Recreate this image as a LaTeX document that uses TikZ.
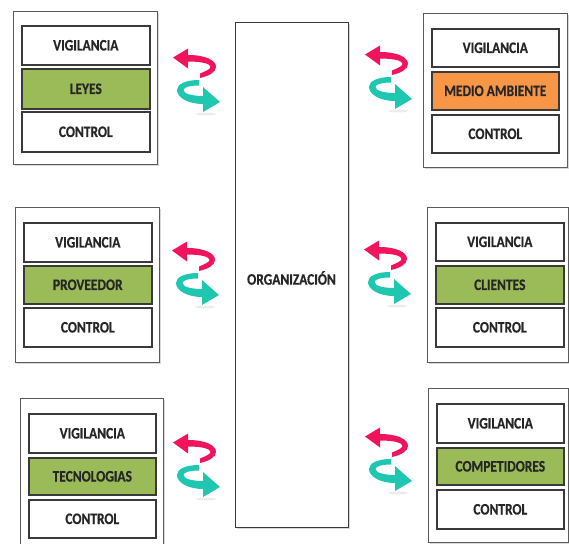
\documentclass[tikz,border=0pt]{standalone}
\usepackage{fontspec}
\setmainfont{Carlito}[BoldFeatures={FakeStretch=0.84,FakeBold=0.5}]
\usetikzlibrary{shadows}
\definecolor{boxgreen}{HTML}{9BBB59}
\definecolor{boxorange}{HTML}{F79646}
\definecolor{arrred}{HTML}{F0145C}
\definecolor{arrteal}{HTML}{1FC6B0}
\definecolor{edgedark}{HTML}{3A3A3A}
\definecolor{edgegray}{HTML}{5A5A5A}
\newcommand\swaparrows[2]{%
\begin{scope}[shift={(#1,#2)}]
 \fill[gray, opacity=0.15] (33,57) ellipse (10 and 1.5);
 \fill[arrred] (0,0.5) -- (15,-8.5) -- (15,-2)
   .. controls (32,-2) and (43,3) .. (43,10)
   .. controls (43,15) and (36,19) .. (27,21) -- (27,16.5)
   .. controls (33,14) and (37.5,12) .. (37.5,10)
   .. controls (37.5,7) and (30,4.5) .. (15,4.5) -- (15,11.5) -- cycle;
 \fill[arrteal] (26,23)
   .. controls (13,23) and (4,27) .. (4,33)
   .. controls (4,41) and (16,47) .. (30,47) -- (30,55) -- (47,45) -- (30,30) -- (30,39)
   .. controls (20,39) and (10.5,37) .. (10.5,33)
   .. controls (10.5,30) and (18,28.5) .. (26,28.5) -- cycle;
\end{scope}}
\tikzset{
  outerbox/.style={draw=edgegray, line width=1.3pt, fill=white, anchor=north west, inner sep=0pt,
    drop shadow={shadow xshift=1.2pt, shadow yshift=-1.2pt, opacity=0.3}},
  txt/.style={font=\bfseries\fontsize{16}{18}\selectfont, text=black!85},
  cellbox/.style={draw=edgedark, line width=1.6pt, fill=white, anchor=north west, inner sep=0pt,
    minimum width=128pt, txt,
    drop shadow={shadow xshift=1pt, shadow yshift=-1pt, opacity=0.35}},
}
\begin{document}
\begin{tikzpicture}[x=1pt,y=-1pt]
\useasboundingbox (0,0) rectangle (569,543);
\clip (0,0) rectangle (569,543);
% central box
\node[outerbox, draw=edgedark, minimum width=113pt, minimum height=505pt] (org) at (235,22) {};
\node[txt] (orgt) at (291.5,278) {ORGANIZACIÓN};
% top left
\node[outerbox, minimum width=144pt, minimum height=153pt] (tl) at (13,11) {};
\node[cellbox, minimum height=39pt] (tlv) at (21,25) {VIGILANCIA};
\node[cellbox, minimum height=40pt, fill=boxgreen] (tlm) at (21,68) {LEYES};
\node[cellbox, minimum height=40pt] (tlc) at (21,111) {CONTROL};
% top right
\node[outerbox, minimum width=144pt, minimum height=154pt] (tr) at (423,13) {};
\node[cellbox, minimum width=127pt, minimum height=38pt] (trv) at (431,28) {VIGILANCIA};
\node[cellbox, minimum width=127pt, minimum height=38pt, fill=boxorange] (trm) at (431,71) {MEDIO AMBIENTE};
\node[cellbox, minimum width=127pt, minimum height=38pt] (trc) at (431,114) {CONTROL};
% middle left
\node[outerbox, minimum width=144pt, minimum height=155pt] (ml) at (15,207) {};
\node[cellbox, minimum height=39pt] (mlv) at (23,222) {VIGILANCIA};
\node[cellbox, minimum height=38pt, fill=boxgreen] (mlm) at (23,265) {PROVEEDOR};
\node[cellbox, minimum height=39pt] (mlc) at (23,307) {CONTROL};
% middle right
\node[outerbox, minimum width=141pt, minimum height=155pt] (mr) at (427,207) {};
\node[cellbox, minimum height=38pt] (mrv) at (435,222) {VIGILANCIA};
\node[cellbox, minimum height=38pt, fill=boxgreen] (mrm) at (435,265) {CLIENTES};
\node[cellbox, minimum height=39pt] (mrc) at (435,307) {CONTROL};
% bottom left
\node[outerbox, minimum width=143pt, minimum height=160pt] (bl) at (20,398) {};
\node[cellbox, minimum width=127pt, minimum height=39pt] (blv) at (28,413) {VIGILANCIA};
\node[cellbox, minimum width=127pt, minimum height=37pt, fill=boxgreen] (blm) at (28,457) {TECNOLOGIAS};
\node[cellbox, minimum width=127pt, minimum height=38pt] (blc) at (28,499) {CONTROL};
% bottom right
\node[outerbox, minimum width=140pt, minimum height=154pt] (br) at (428,388) {};
\node[cellbox, minimum width=127pt, minimum height=39pt] (brv) at (436,403) {VIGILANCIA};
\node[cellbox, minimum width=127pt, minimum height=37pt, fill=boxgreen] (brm) at (436,447) {COMPETIDORES};
\node[cellbox, minimum width=127pt, minimum height=39pt] (brc) at (436,489) {CONTROL};
% exchange arrows
\swaparrows{173}{57}
\swaparrows{365}{54}
\swaparrows{172}{250}
\swaparrows{364}{249}
\swaparrows{173}{442}
\swaparrows{365}{436}
\end{tikzpicture}
\end{document}
